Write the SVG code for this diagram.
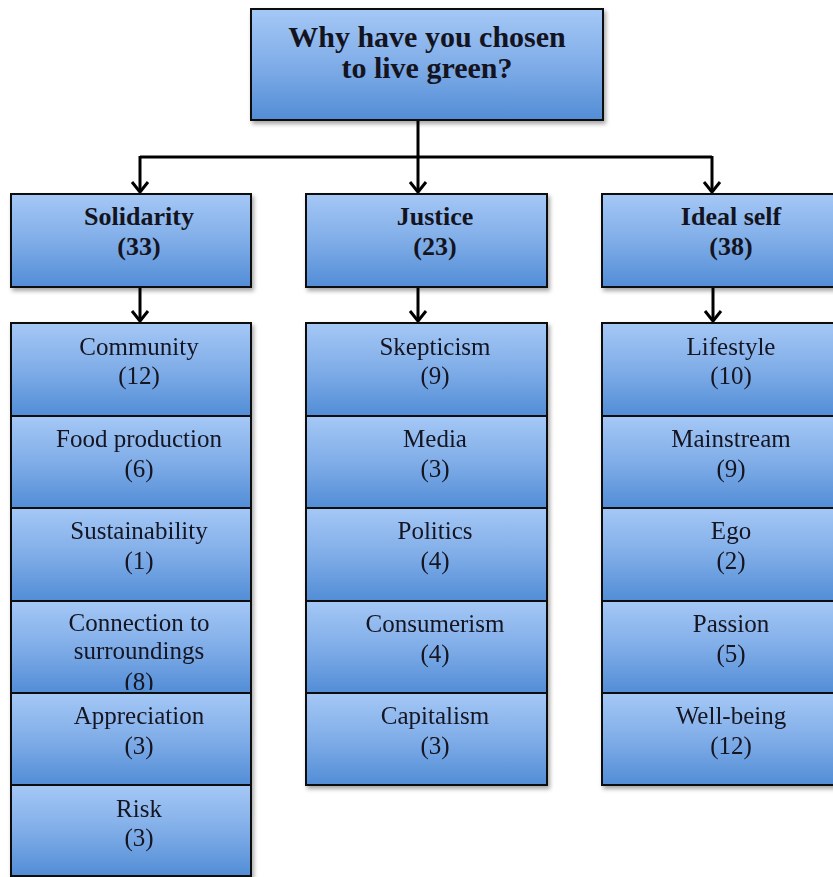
<svg xmlns="http://www.w3.org/2000/svg" width="833" height="877" viewBox="0 0 833 877">
<defs>
<linearGradient id="g" x1="0" y1="0" x2="0" y2="1">
<stop offset="0" stop-color="#a5c8f6"/>
<stop offset="0.5" stop-color="#80ade8"/>
<stop offset="1" stop-color="#528dd6"/>
</linearGradient>
<filter id="sh" x="-5%" y="-5%" width="115%" height="120%">
<feDropShadow dx="2" dy="3" stdDeviation="2" flood-color="#000" flood-opacity="0.35"/>
</filter>
<marker id="arr" markerUnits="userSpaceOnUse" markerWidth="24" markerHeight="24" viewBox="-12 -12 24 24" refX="0" refY="0" orient="auto">
<path d="M-10,-8 L0,0 L-10,8" fill="none" stroke="#000" stroke-width="3"/>
</marker>
<clipPath id="clipConn"><rect x="11" y="601" width="240" height="89"/></clipPath>
</defs>
<style>
.box{fill:url(#g);stroke:#111;stroke-width:2;}
.sb{filter:url(#sh);}
.t{font-family:"Liberation Serif","Times New Roman",serif;font-size:25px;fill:#141420;text-anchor:middle;}
.b{font-weight:bold;font-size:26px;}
.tt{font-weight:bold;font-size:30px;}
.c{fill:none;stroke:#000;stroke-width:3;}
</style>
<rect width="833" height="877" fill="#fff"/>

<g id="connectors">
<path class="c" d="M418,120 L418,157"/>
<path class="c" d="M140,157 L712,157"/>
<path class="c" d="M140,156 L140,192" marker-end="url(#arr)"/>
<path class="c" d="M418,157 L418,192" marker-end="url(#arr)"/>
<path class="c" d="M712,156 L712,192" marker-end="url(#arr)"/>
<path class="c" d="M140,287 L140,321" marker-end="url(#arr)"/>
<path class="c" d="M418,287 L418,321" marker-end="url(#arr)"/>
<path class="c" d="M713,287 L713,321" marker-end="url(#arr)"/>
</g>

<g id="root">
<rect class="box sb" x="251" y="9" width="352" height="111"/>
<text class="t tt" x="427" y="47">Why have you chosen</text>
<text class="t tt" x="427" y="78">to live green?</text>
</g>

<g id="solidarity">
<rect class="box sb" x="11" y="194" width="240" height="93"/>
<text class="t b" x="139" y="225">Solidarity</text>
<text class="t b" x="139" y="255">(33)</text>
</g>
<g id="justice">
<rect class="box sb" x="306" y="194" width="241" height="93"/>
<text class="t b" x="435" y="225">Justice</text>
<text class="t b" x="435" y="255">(23)</text>
</g>
<g id="idealself">
<rect class="box sb" x="602" y="194" width="242" height="93"/>
<text class="t b" x="731" y="225">Ideal self</text>
<text class="t b" x="731" y="255">(38)</text>
</g>

<g id="sol-children" class="sb">
<g id="community"><rect class="box" x="11" y="323" width="240" height="93"/>
<text class="t" x="139" y="355">Community</text><text class="t" x="139" y="384">(12)</text></g>
<g id="foodproduction"><rect class="box" x="11" y="416" width="240" height="92"/>
<text class="t" x="139" y="447">Food production</text><text class="t" x="139" y="477">(6)</text></g>
<g id="sustainability"><rect class="box" x="11" y="508" width="240" height="93"/>
<text class="t" x="139" y="539">Sustainability</text><text class="t" x="139" y="569">(1)</text></g>
<g id="connection"><rect class="box" x="11" y="601" width="240" height="92"/>
<g clip-path="url(#clipConn)">
<text class="t" x="139" y="631">Connection to</text><text class="t" x="139" y="659">surroundings</text><text class="t" x="139" y="690">(8)</text></g></g>
<g id="appreciation"><rect class="box" x="11" y="693" width="240" height="92"/>
<text class="t" x="139" y="724">Appreciation</text><text class="t" x="139" y="754">(3)</text></g>
<g id="risk"><rect class="box" x="11" y="785" width="240" height="91"/>
<text class="t" x="139" y="817">Risk</text><text class="t" x="139" y="846">(3)</text></g>
</g>

<g id="jus-children" class="sb">
<g id="skepticism"><rect class="box" x="306" y="323" width="241" height="93"/>
<text class="t" x="435" y="355">Skepticism</text><text class="t" x="435" y="384">(9)</text></g>
<g id="media"><rect class="box" x="306" y="416" width="241" height="92"/>
<text class="t" x="435" y="447">Media</text><text class="t" x="435" y="477">(3)</text></g>
<g id="politics"><rect class="box" x="306" y="508" width="241" height="93"/>
<text class="t" x="435" y="539">Politics</text><text class="t" x="435" y="569">(4)</text></g>
<g id="consumerism"><rect class="box" x="306" y="601" width="241" height="92"/>
<text class="t" x="435" y="632">Consumerism</text><text class="t" x="435" y="662">(4)</text></g>
<g id="capitalism"><rect class="box" x="306" y="693" width="241" height="92"/>
<text class="t" x="435" y="724">Capitalism</text><text class="t" x="435" y="754">(3)</text></g>
</g>

<g id="ide-children" class="sb">
<g id="lifestyle"><rect class="box" x="602" y="323" width="242" height="93"/>
<text class="t" x="731" y="355">Lifestyle</text><text class="t" x="731" y="384">(10)</text></g>
<g id="mainstream"><rect class="box" x="602" y="416" width="242" height="92"/>
<text class="t" x="731" y="447">Mainstream</text><text class="t" x="731" y="477">(9)</text></g>
<g id="ego"><rect class="box" x="602" y="508" width="242" height="93"/>
<text class="t" x="731" y="539">Ego</text><text class="t" x="731" y="569">(2)</text></g>
<g id="passion"><rect class="box" x="602" y="601" width="242" height="92"/>
<text class="t" x="731" y="632">Passion</text><text class="t" x="731" y="662">(5)</text></g>
<g id="wellbeing"><rect class="box" x="602" y="693" width="242" height="92"/>
<text class="t" x="731" y="724">Well-being</text><text class="t" x="731" y="754">(12)</text></g>
</g>
</svg>
